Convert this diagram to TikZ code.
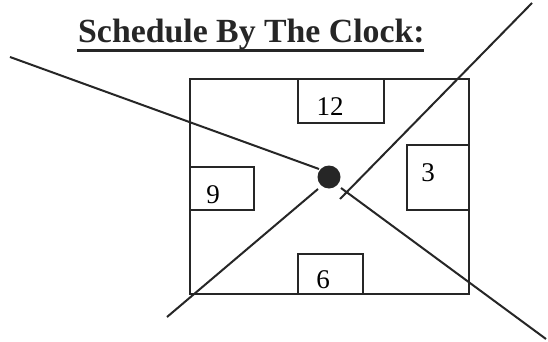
\documentclass[tikz,border=0pt]{standalone}
\usepackage{fontspec}
\setmainfont{Liberation Serif}
\begin{document}
\begin{tikzpicture}[x=1pt,y=-1pt,
  frame/.style={draw=black!85, line width=2pt},
  numbox/.style={draw=black!85, line width=1.8pt, inner sep=0pt},
  numtext/.style={font=\fontsize{27}{30}\selectfont, anchor=base, inner sep=0pt},
  ray/.style={draw=black!85, line width=2pt},
  title/.style={font=\fontsize{33.8}{38}\selectfont\bfseries, text=black!85, inner sep=0pt}]
\useasboundingbox (0,0) rectangle (548,342);
\fill[white] (0,0) rectangle (548,342);
% title
\node[title, anchor=base west] (ttl) at (78,43) {Schedule By The Clock:};
\coordinate (ulA) at (77,50.5);
\coordinate (ulB) at (424,50.5);
\draw[black!85, line width=2.5pt] (ulA) -- (ulB);
% outer frame
\node[frame, minimum width=279pt, minimum height=215pt, anchor=north west, inner sep=0pt] (outer) at (189,78) {};
% number boxes
\node[numbox, minimum width=86pt, minimum height=44pt, anchor=north west] (b12) at (297,78) {};
\node[numbox, minimum width=62pt, minimum height=65pt, anchor=north west] (b3) at (406,144) {};
\node[numbox, minimum width=64pt, minimum height=43pt, anchor=north west] (b9) at (189,166) {};
\node[numbox, minimum width=65pt, minimum height=40pt, anchor=north west] (b6) at (297,253) {};
\node[numtext] (t12) at (330,115) {12};
\node[numtext] (t3) at (428,181) {3};
\node[numtext] (t9) at (213,203) {9};
\node[numtext] (t6) at (323,288) {6};
% dot
\node[circle, fill=black!85, minimum size=23pt, inner sep=0pt] (dot) at (329,177) {};
% rays
\coordinate (l1a) at (10,57);
\coordinate (l1b) at (319,169);
\coordinate (l1c) at (341,188);
\coordinate (l1d) at (546,339);
\coordinate (l2a) at (167,317);
\coordinate (l2b) at (318,189);
\coordinate (l2c) at (340,199);
\coordinate (l2d) at (532,3);
\draw[ray] (l1a) -- (l1b);
\draw[ray] (l1c) -- (l1d);
\draw[ray] (l2a) -- (l2b);
\draw[ray] (l2c) -- (l2d);
\end{tikzpicture}
\end{document}
